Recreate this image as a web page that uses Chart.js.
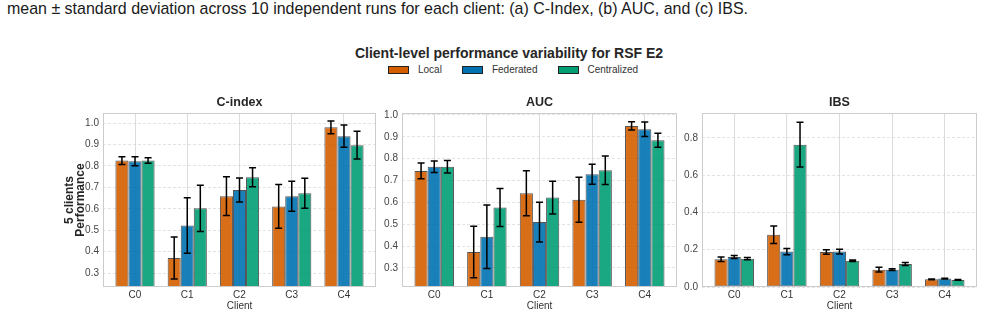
<!DOCTYPE html>
<html>
<head>
<meta charset="utf-8">
<script src="https://cdn.jsdelivr.net/npm/chart.js@4.4.1/dist/chart.umd.min.js"></script>
<style>
    body { margin: 0; background: #fff; font-family: "Liberation Sans", Arial, sans-serif; }
    #pagina { position: relative; width: 984px; height: 316px; overflow: hidden; background: #fff; }
    #caption { position: absolute; left: 7px; top: -1px; font-size: 17px; color: #1a1a1a; white-space: nowrap; transform-origin: 0 0; }
    #titulo { position: absolute; left: 0; width: 1018px; top: 45px; text-align: center; font-weight: bold; font-size: 14px; color: #262626; }
    #leyenda { position: absolute; left: 388px; top: 64px; display: flex; align-items: center; font-size: 10px; color: #333; }
    .item { display: flex; align-items: center; margin-right: 20px; }
    .caja { width: 19px; height: 6px; border: 1px solid #222; margin-right: 9px; }
    canvas { position: absolute; top: 90px; }
</style>
</head>
<body>
<div id="pagina">
    <div id="caption">mean &plusmn; standard deviation across 10 independent runs for each client: (a) C-Index, (b) AUC, and (c) IBS.</div>
    <div id="titulo">Client-level performance variability for RSF E2</div>
    <div id="leyenda"></div>
    <canvas id="grafCindex" width="380" height="226" style="left:0px"></canvas>
    <canvas id="grafAuc" width="304" height="226" style="left:380px"></canvas>
    <canvas id="grafIbs" width="300" height="226" style="left:684px"></canvas>
</div>
<script>
// Datos
const clientes = ['C0', 'C1', 'C2', 'C3', 'C4'];
const metodos = ['Local', 'Federated', 'Centralized'];
const colores = ['#D55E00', '#0072B2', '#009E73'];

// C-index (media y desviación)
const cindexLocal = [0.825, 0.370, 0.659, 0.611, 0.980];
const cindexLocalSd = [0.018, 0.098, 0.090, 0.102, 0.030];
const cindexFederated = [0.822, 0.522, 0.688, 0.659, 0.939];
const cindexFederatedSd = [0.021, 0.130, 0.056, 0.070, 0.052];
const cindexCentralized = [0.825, 0.602, 0.747, 0.672, 0.897];
const cindexCentralizedSd = [0.013, 0.108, 0.044, 0.070, 0.065];

// AUC
const aucLocal = [0.744, 0.373, 0.642, 0.612, 0.950];
const aucLocalSd = [0.036, 0.118, 0.103, 0.103, 0.019];
const aucFederated = [0.763, 0.443, 0.510, 0.729, 0.935];
const aucFederatedSd = [0.026, 0.145, 0.091, 0.046, 0.033];
const aucCentralized = [0.763, 0.577, 0.622, 0.747, 0.884];
const aucCentralizedSd = [0.029, 0.087, 0.075, 0.065, 0.032];

// IBS
const ibsLocal = [0.149, 0.281, 0.188, 0.093, 0.041];
const ibsLocalSd = [0.012, 0.047, 0.0125, 0.0125, 0.002];
const ibsFederated = [0.161, 0.190, 0.190, 0.093, 0.045];
const ibsFederatedSd = [0.008, 0.017, 0.0125, 0.005, 0.002];
const ibsCentralized = [0.152, 0.764, 0.141, 0.1235, 0.038];
const ibsCentralizedSd = [0.006, 0.120, 0.0045, 0.008, 0.002];

// Marcas de los ejes
const cindexTicks = [0.3, 0.4, 0.5, 0.6, 0.7, 0.8, 0.9, 1.0];
const aucTicks = [0.3, 0.4, 0.5, 0.6, 0.7, 0.8, 0.9, 1.0];
const ibsTicks = [0.0, 0.2, 0.4, 0.6, 0.8];

// Ajustar el ancho del pie de figura
const caption = document.getElementById('caption');
caption.style.transform = 'scaleX(' + (741 / caption.getBoundingClientRect().width) + ')';

// Leyenda en HTML
const leyenda = document.getElementById('leyenda');
metodos.forEach((m, i) => {
    const item = document.createElement('div');
    item.className = 'item';
    item.innerHTML = '<span class="caja" style="background:' + colores[i] + '"></span><span>' + m + '</span>';
    leyenda.appendChild(item);
});

// Plugin: marco gris alrededor del área y título del panel
const marcoPlugin = {
    id: 'marco',
    afterDraw: (chart) => {
        const { ctx, chartArea: a } = chart;
        ctx.save();
        ctx.strokeStyle = '#cccccc';
        ctx.lineWidth = 1;
        ctx.strokeRect(a.left + 0.5, a.top + 0.5, a.right - a.left - 1, a.bottom - a.top - 1);
        ctx.fillStyle = '#262626';
        ctx.font = 'bold 12.5px "Liberation Sans", Arial, sans-serif';
        ctx.textAlign = 'center';
        ctx.textBaseline = 'middle';
        ctx.fillText(chart.options.plugins.marco.texto, (a.left + a.right) / 2, a.top - 10);
        ctx.restore();
    }
};

// Plugin: barras de error
const erroresPlugin = {
    id: 'errores',
    afterDatasetsDraw: (chart) => {
        const { ctx, chartArea: a, scales } = chart;
        ctx.save();
        ctx.beginPath();
        ctx.rect(a.left, a.top, a.right - a.left, a.bottom - a.top);
        ctx.clip();
        ctx.strokeStyle = '#000';
        ctx.lineWidth = 1.5;
        chart.data.datasets.forEach((ds, d) => {
            const meta = chart.getDatasetMeta(d);
            meta.data.forEach((barra, i) => {
                const v = ds.data[i].y;
                const sd = ds.sd[i];
                const yArr = scales.y.getPixelForValue(v + sd);
                const yAba = scales.y.getPixelForValue(v - sd);
                const x = barra.x;
                ctx.beginPath();
                ctx.moveTo(x, yArr); ctx.lineTo(x, yAba);
                ctx.moveTo(x - 3.5, yArr); ctx.lineTo(x + 3.5, yArr);
                ctx.moveTo(x - 3.5, yAba); ctx.lineTo(x + 3.5, yAba);
                ctx.stroke();
            });
        });
        ctx.restore();
    }
};

// Función para crear cada panel
const crearPanel = (id, texto, series, desv, ticks, yMin, yMax, anchoY, padDer, tituloY) => {
    const datasets = series.map((vals, k) => ({
        label: metodos[k],
        data: clientes.map((c, i) => ({ x: i, y: vals[i] })),
        sd: desv[k],
        backgroundColor: colores[k] + 'E6',
        borderColor: 'rgba(55,55,55,0.85)',
        borderWidth: 1,
        borderSkipped: false,
        clip: 0
    }));

    new Chart(document.getElementById(id), {
        type: 'bar',
        data: { datasets },
        options: {
            responsive: false,
            animation: false,
            layout: { padding: { top: 23, right: padDer, bottom: 0, left: 0 } },
            datasets: { bar: { categoryPercentage: 0.75, barPercentage: 1.0 } },
            plugins: {
                legend: { display: false },
                tooltip: { enabled: false },
                marco: { texto }
            },
            scales: {
                x: {
                    type: 'linear',
                    min: -0.6125,
                    max: 4.6125,
                    offset: false,
                    afterBuildTicks: (s) => { s.ticks = clientes.map((c, i) => ({ value: i })); },
                    afterFit: (s) => { s.height = 29; },
                    ticks: {
                        autoSkip: false,
                        maxRotation: 0,
                        padding: 2,
                        color: '#333',
                        font: { size: 10, family: '"Liberation Sans", Arial, sans-serif' },
                        callback: (v) => clientes[v]
                    },
                    grid: { color: '#dcdcdc', lineWidth: 1, drawTicks: false, offset: false },
                    border: { display: false },
                    title: {
                        display: true,
                        text: 'Client',
                        color: '#333',
                        padding: { top: 0, bottom: 4 },
                        font: { size: 10, family: '"Liberation Sans", Arial, sans-serif' }
                    }
                },
                y: {
                    min: yMin,
                    max: yMax,
                    afterBuildTicks: (s) => { s.ticks = ticks.map(v => ({ value: v })); },
                    afterFit: (s) => { s.width = anchoY; },
                    ticks: {
                        padding: 4,
                        color: '#444',
                        font: { size: 10, family: '"Liberation Sans", Arial, sans-serif' },
                        callback: (v) => Number(v).toFixed(1)
                    },
                    grid: { color: 'rgba(200,200,200,0.5)', lineWidth: 1, drawTicks: false },
                    border: { display: false, dash: [3, 2] },
                    title: tituloY ? {
                        display: true,
                        text: tituloY,
                        color: '#262626',
                        padding: { top: 64, bottom: 0 },
                        font: { size: 12, weight: 'bold', lineHeight: 0.9, family: '"Liberation Sans", Arial, sans-serif' }
                    } : { display: false }
                }
            }
        },
        plugins: [marcoPlugin, erroresPlugin]
    });
};

// Inicializar los tres paneles
crearPanel('grafCindex', 'C-index',
    [cindexLocal, cindexFederated, cindexCentralized],
    [cindexLocalSd, cindexFederatedSd, cindexCentralizedSd],
    cindexTicks, 0.235, 1.047, 103, 4, ['5 clients', 'Performance']);

crearPanel('grafAuc', 'AUC',
    [aucLocal, aucFederated, aucCentralized],
    [aucLocalSd, aucFederatedSd, aucCentralizedSd],
    aucTicks, 0.213, 1.009, 22, 7, null);

crearPanel('grafIbs', 'IBS',
    [ibsLocal, ibsFederated, ibsCentralized],
    [ibsLocalSd, ibsFederatedSd, ibsCentralizedSd],
    ibsTicks, 0, 0.934, 18, 7, null);
</script>
</body>
</html>
